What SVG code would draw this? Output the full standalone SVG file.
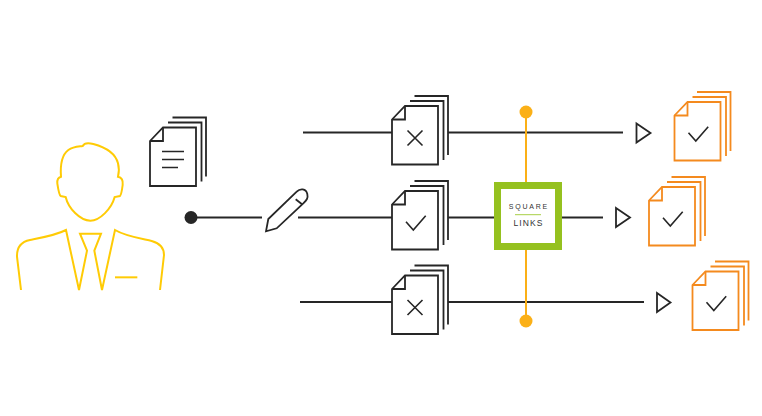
<svg xmlns="http://www.w3.org/2000/svg" width="762" height="416" viewBox="0 0 762 416">
<style>
.k{fill:none;stroke:#262626;stroke-width:1.8}
.o{fill:none;stroke:#f48a1e;stroke-width:1.8}
.y{fill:none;stroke:#ffcb05}
.a{fill:none;stroke:#fbb017;stroke-width:2}
.m{fill:none;stroke:#262626;stroke-width:1.6}
.t{font-family:"Liberation Sans",Arial,sans-serif;fill:#333;text-anchor:middle}
</style>
<defs>
<g id="doc"><path d="M0,13.5 L13,0 H46 V58.5 H0 Z"/><path d="M13,0 V13.5 H0"/><path d="M18,-5 H51.5 V54"/><path d="M22.5,-10 H56 V49"/></g>
<path id="x" class="m" d="M15.5,24.5 L30.5,39.5 M30.5,24.5 L15.5,39.5"/>
<path id="c" class="m" d="M14,30.7 L21.3,39 L33.7,24.7"/>
</defs>
<g id="connectors">
<path class="k" d="M191,217.5 H262 M298,217.5 H392 M448,217.5 H494 M562,217.5 H603"/>
<path class="k" d="M303,132.5 H392 M448,132.5 H623"/>
<path class="k" d="M300,302 H392 M448,302 H644"/>
<path class="a" d="M526,112 V182 M526,250 V321"/>
</g>
<g id="person" class="y" transform="translate(0,130) scale(.33333)" style="stroke-width:6">
<path d="M183,140 C180,100 185,75 205,60 C220,50 235,50 248,48 C252,40 265,38 280,42 C310,50 345,65 354,100 C358,115 357,128 354,140 C365,142 370,148 368,165 C366,180 364,195 360,198 L344,201 C335,235 300,272 271,272 C240,272 205,235 197,201 L182,198 C177,195 175,180 172,160 C171,148 175,142 183,140 Z"/>
<path d="M63,480 L51,380 C50,350 65,335 90,330 C130,322 170,315 198,300 L237,480 L261,362 L240,311 H303 L283,362 L306,480 L345,300 C375,318 420,325 455,333 C480,340 492,355 492,375 L480,480"/>
<path d="M345,442 H412"/>
</g>
<g id="start-dot"><circle cx="191" cy="217.5" r="6.5" fill="#262626"/></g>
<g id="source-doc" class="k" transform="translate(150,127.5)"><use href="#doc"/><path class="m" d="M12,24 H34 M12,32 H34 M12,40 H28"/></g>
<g id="pen" class="k"><path d="M266,231.3 L268.3,219 L296.7,191.7 C300,188.3 306,188.3 307.3,194 C308.3,198.3 306.7,200 303.3,203.3 L276.7,228.3 Z"/><path d="M295.7,199.3 L302,204.3"/></g>
<g id="doc-reject-1" class="k" transform="translate(392,106)"><use href="#doc"/><use href="#x"/></g>
<g id="doc-accept" class="k" transform="translate(392,191)"><use href="#doc"/><use href="#c"/></g>
<g id="doc-reject-2" class="k" transform="translate(392,275.5)"><use href="#doc"/><use href="#x"/></g>
<g id="square-links">
<rect x="497.5" y="185.5" width="61" height="61" fill="#fff" stroke="#95c11f" stroke-width="7"/>
<text class="t" x="528.9" y="209.3" font-size="7" letter-spacing="1.8">SQUARE</text>
<path d="M515,214.7 H541" stroke="#a8cf45" stroke-width="1"/>
<text class="t" x="528.5" y="226" font-size="8.5" letter-spacing="1.1">LINKS</text>
</g>
<g id="orange-dot-top"><circle cx="526" cy="112" r="6.5" fill="#fbb017"/></g>
<g id="orange-dot-bottom"><circle cx="526" cy="321" r="6.5" fill="#fbb017"/></g>
<g id="arrow-1"><path class="k" d="M636.5,123.5 L650.5,133 L636.5,142.5 Z"/></g>
<g id="arrow-2"><path class="k" d="M616,208 L630,217.5 L616,227 Z"/></g>
<g id="arrow-3"><path class="k" d="M657,293 L670.5,302.5 L657,312 Z"/></g>
<g id="out-1" class="o" transform="translate(674.500,102)"><use href="#doc"/><use href="#c"/></g>
<g id="out-2" class="o" transform="translate(649,187)"><use href="#doc"/><use href="#c"/></g>
<g id="out-3" class="o" transform="translate(692.500,271.500)"><use href="#doc"/><use href="#c"/></g>
</svg>
